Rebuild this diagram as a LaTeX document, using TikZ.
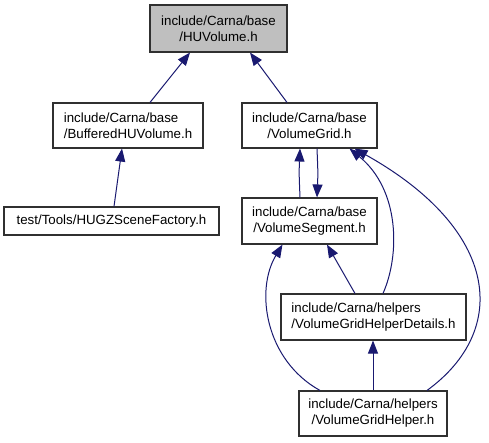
\documentclass[tikz,border=0pt]{standalone}
\usepackage{fontspec}
\setmainfont{Liberation Sans}
\usetikzlibrary{arrows.meta,calc}
\definecolor{edgeblue}{HTML}{191970}
\definecolor{hlgray}{HTML}{BFBFBF}
\definecolor{boxline}{HTML}{303030}
\begin{document}
\begin{tikzpicture}[x=1pt,y=1pt,
  filebox/.style={draw=boxline,line width=1.1pt,fill=white,inner sep=0pt,
    font=\fontsize{13.3}{16}\selectfont,align=center},
  dep/.style={edgeblue,line width=1pt,-{Triangle[length=13pt,width=10pt]}}]
\fill[white] (0,0) rectangle (489,-443);
\useasboundingbox (0,0) rectangle (489,-443);
\node[filebox,fill=hlgray,minimum width=137,minimum height=47] (hu) at (218.5,-28.5) {include/Carna/base\\/HUVolume.h};
\node[filebox,align=left,minimum width=150,minimum height=45] (buf) at (128,-125.5) {include/Carna/base\\/BufferedHUVolume.h};
\node[filebox,minimum width=215,minimum height=28] (hugz) at (111.5,-221) {test/Tools/HUGZSceneFactory.h};
\node[filebox,minimum width=135,minimum height=45] (vg) at (309.5,-125.5) {include/Carna/base\\/VolumeGrid.h};
\node[filebox,minimum width=135,minimum height=46] (vs) at (309.5,-221) {include/Carna/base\\/VolumeSegment.h};
\node[filebox,align=left,minimum width=185,minimum height=46] (det) at (373.5,-317) {include/Carna/helpers\\/VolumeGridHelperDetails.h};
\node[filebox,minimum width=148,minimum height=45] (hlp) at (373,-413.5) {include/Carna/helpers\\/VolumeGridHelper.h};

\draw[dep] ($(buf.north)+(22,0)$) -- ($(hu.south)+(-28.5,0)$);
\draw[dep] ($(vg.north)+(-22.5,0)$) -- ($(hu.south)+(31.5,0)$);
\draw[dep] ($(hugz.north)+(2.5,0)$) -- ($(buf.south)+(-6,0)$);
\draw[dep] ($(vs.north)+(-9.5,0)$) .. controls +(-1,25) and +(-1,-25) .. ($(vg.south)+(-9.5,0)$);
\draw[dep] ($(vg.south)+(7.5,0)$) .. controls +(1,-25) and +(1,25) .. ($(vs.north)+(7.5,0)$);
\draw[dep] ($(det.north)+(-18.5,0)$) -- ($(vs.south)+(17.5,0)$);
\draw[dep] ($(det.north)+(9.5,0)$) .. controls (400,-255) and (400,-190) .. ($(vg.south)+(40,0)$);
\draw[dep] ($(hlp.north)+(54,0)$) .. controls (510,-330) and (500,-230) .. ($(vg.south)+(45,0)$);
\draw[dep] ($(hlp.north)+(-53,0)$) .. controls (265,-360) and (255,-290) .. ($(vs.south)+(-27,0)$);
\draw[dep] (hlp.north) -- (hlp.north |- det.south);
\end{tikzpicture}
\end{document}
